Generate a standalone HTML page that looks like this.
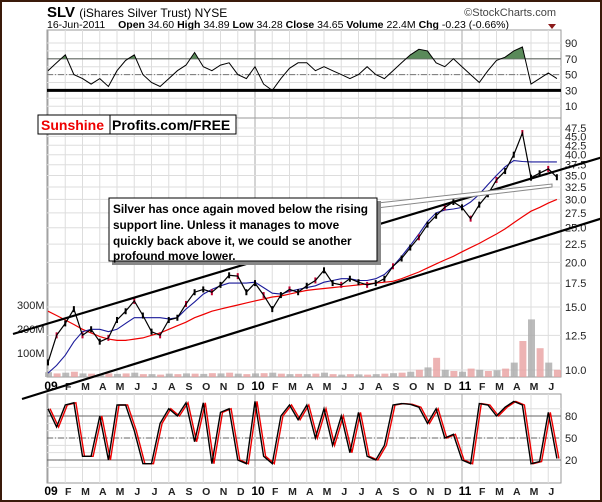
<!DOCTYPE html>
<html><head><meta charset="utf-8"><style>
body{margin:0;background:#fff}
#wrap{position:relative;width:598px;height:498px;border:2px solid #3a1a0a;overflow:hidden;background:#fff;font-family:"Liberation Sans",Arial,sans-serif}
svg{position:absolute;left:-2px;top:-2px}
</style></head><body>
<div id="wrap">
<svg id="c" width="602" height="502" xmlns="http://www.w3.org/2000/svg" font-family="Liberation Sans, Arial, sans-serif">
<text x="47" y="17" font-size="15" font-weight="bold">SLV <tspan font-weight="normal" font-size="12">(iShares Silver Trust) NYSE</tspan></text>
<text x="556" y="16" font-size="11" text-anchor="end" fill="#444">©StockCharts.com</text>
<text x="47" y="28" font-size="10.5">16-Jun-2011 <tspan dx="10" font-weight="bold">Open</tspan> 34.60 <tspan font-weight="bold">High</tspan> 34.89 <tspan font-weight="bold">Low</tspan> 34.28 <tspan font-weight="bold">Close</tspan> 34.65 <tspan font-weight="bold">Volume</tspan> 22.4M <tspan font-weight="bold">Chg</tspan> -0.23 (-0.66%)</text>
<polygon points="548,24 556,24 552,29" fill="#8b1a1a"/>
<g id="grid"></g><g id="marks"></g>
</svg>
</div>
<script>
const months=['09','F','M','A','M','J','J','A','S','O','N','D','10','F','M','A','M','J','J','A','S','O','N','D','11','F','M','A','M','J'];
const priceTicks=[10,12.5,15,17.5,20,22.5,25,27.5,30,32.5,35,37.5,40,42.5,45,47.5];
const price=[10.5,12.5,13.5,14.8,12.5,13,12,12.3,13.8,14.6,15.6,14.2,12.8,12.5,13.8,14,15.3,16.5,16.8,16.5,17.3,18.4,18.3,16.5,17.5,16.2,14.8,16.2,16.8,16.5,17.2,17.8,19,17.5,17.3,18,17.6,17.3,17.5,18,19.5,20.5,22,23.5,25.5,27,28.5,29.5,28.5,26.5,29,31,34,36,40,46,34.5,35.5,36.5,34.6];
const ma50=[9.8,10.3,11,12,12.8,13,13,12.8,13,13.5,14,14,14,14,13.9,14,14.8,15.5,16.3,16.8,17.2,17.5,17.5,17.5,17.6,17,16.4,16.3,16.6,16.8,17,17.2,17.6,17.8,18,18,17.8,17.8,18,18.5,19.5,20.8,22.3,24,26,27.5,28,28.2,28.5,29.5,31,33,35,37,38.5,38.3,38.2,38.2,38.2,38.2];
const ma200=[14.6,14.2,13.8,13.4,13.0,12.7,12.4,12.2,12.1,12.1,12.2,12.3,12.5,12.7,13,13.3,13.6,14,14.3,14.6,14.8,15.0,15.2,15.4,15.6,15.8,16,16.1,16.3,16.5,16.7,16.8,16.9,17,17.1,17.2,17.3,17.4,17.5,17.6,17.7,18,18.4,18.8,19.3,19.8,20.3,20.8,21.4,22,22.6,23.3,24,24.8,25.8,26.8,27.8,28.5,29.3,30.0];
const volume=[20,15,18,22,15,14,12,15,13,15,18,12,12,10,14,12,15,14,13,16,15,18,14,12,15,16,18,14,12,13,12,14,18,12,10,12,11,10,12,14,16,18,22,30,40,80,30,25,22,35,30,25,28,35,60,150,240,120,60,30];
const rsi=[55,65,75,50,45,38,45,35,55,68,75,50,40,35,45,55,62,78,60,55,62,65,50,45,60,38,30,45,58,65,65,55,60,55,50,45,50,60,50,45,55,65,75,82,80,65,60,70,60,50,40,55,68,72,80,85,38,45,52,45];
const stoch=[90,65,95,98,25,25,80,20,95,95,60,15,15,70,90,80,98,45,98,15,85,90,20,15,100,25,15,80,95,75,95,50,90,40,80,30,85,25,20,40,95,97,96,92,70,90,50,55,20,15,97,95,80,92,100,95,15,18,85,22];
const rsiTicks=[90,70,50,30,10];
const stochTicks=[80,50,20];
const volTicks=[100,200,300];

const NS='http://www.w3.org/2000/svg';
const G=document.getElementById('grid'),M=document.getElementById('marks');
const L=47,R=561;
function xm(m){return 48+m*17.25;}
function yp(p){return 370-Math.log(p/10)*155.3;}
function yr(v){return 43+(90-v)*0.79;}
function ys(v){return 460-(v-20)*0.733;}
function yv(v){return 377-v*0.24;}
function el(tag,attrs,parent){const e=document.createElementNS(NS,tag);for(const k in attrs)e.setAttribute(k,attrs[k]);parent.appendChild(e);return e;}
function pts(arr,fy){return arr.map((v,i)=>xm(i*0.5).toFixed(1)+','+fy(v).toFixed(1)).join(' ');}

const panels=[[30,118],[118,377],[394,483]];
panels.forEach((p,pi)=>{
  const r=el('rect',{x:L,y:p[0],width:R-L,height:p[1]-p[0],fill:'none',stroke:'#999'},G);
  
  
  months.forEach((mo,i)=>{
    const g=el('line',{x1:xm(i),x2:xm(i),y1:p[0],y2:p[1],stroke:i%12==0?'#aaa':'#ddd'},G);
    
    
  });
});
[386,491].forEach(y=>{months.forEach((mo,i)=>{
  const t=el('text',{x:xm(i)+3,y:y+4,'font-size':mo.length>1?12:10.5,'font-weight':'bold','text-anchor':'middle',fill:mo.length>1?'#000':'#222'},G);
  t.textContent=mo;
  
  
});});
priceTicks.forEach(v=>{
  const g=el('line',{x1:L,x2:R,y1:yp(v),y2:yp(v),stroke:'#ddd'},G);
  
  
  const t=el('text',{x:565,y:yp(v)+4,'font-size':11,fill:'#222'},G);
  t.textContent=v.toFixed(1);
  
  
});
volTicks.forEach(v=>{
  const t=el('text',{x:17,y:yv(v)+4,'font-size':11,fill:'#222'},G);
  t.textContent=v+'M';
  
  
});
[90,80,70,60,50,40,30,20,10].forEach(v=>{
  const g=el('line',{x1:L,x2:R,y1:yr(v),y2:yr(v),stroke:'#ddd'},G);
  
  
});
rsiTicks.forEach(v=>{
  const t=el('text',{x:565,y:yr(v)+4,'font-size':11,fill:'#222'},G);
  t.textContent=v;
  
  
});
[[70,'#666',1.2,''],[50,'#777',1,'6,2,1,2'],[30,'#000',3,'']].forEach(a=>{
  const g=el('line',{x1:L,x2:R,y1:yr(a[0]),y2:yr(a[0]),stroke:a[1],'stroke-width':a[2],'stroke-dasharray':a[3]},G);
  
  
});
[90,80,70,60,50,40,30,20,10].forEach(v=>{
  const g=el('line',{x1:L,x2:R,y1:ys(v),y2:ys(v),stroke:'#ddd'},G);
  
  
});
stochTicks.forEach(v=>{
  const t=el('text',{x:565,y:ys(v)+4,'font-size':11,fill:'#222'},G);
  t.textContent=v;
  
  
  const g=el('line',{x1:L,x2:R,y1:ys(v),y2:ys(v),stroke:'#666','stroke-dasharray':v==50?'6,2,1,2':''},G);
  
  
});

volume.forEach((v,i)=>{
  const b=el('rect',{x:xm(i*0.5)-3,y:yv(v),width:7,height:377-yv(v),fill:i%2?'#e8a0a0':'#aaa',opacity:0.8},M);
  
  
});
const rp=el('clipPath',{id:'above70'},M);
el('rect',{x:L,y:30,width:R-L,height:yr(70)-30},rp);
const rf=el('polygon',{points:xm(0)+','+yr(70)+' '+pts(rsi,yr)+' '+xm(29.5)+','+yr(70),fill:'#5a8a5a','clip-path':'url(#above70)'},M);


const rl=el('polyline',{points:pts(rsi,yr),fill:'none',stroke:'#000','stroke-width':1},M);


const m2=el('polyline',{points:pts(ma200,yp),fill:'none',stroke:'#e00','stroke-width':1.2},M);


const m5=el('polyline',{points:pts(ma50,yp),fill:'none',stroke:'#1a1a9a','stroke-width':1.1},M);


price.forEach((v,i)=>{
  const b=el('rect',{x:xm(i*0.5)-1,y:yp(v)-3,width:2,height:6,fill:i%3==1?'#c00030':'#000'},M);
  
  
});
const pl=el('polyline',{points:pts(price,yp),fill:'none',stroke:'#000','stroke-width':1.2},M);


const sd=el('polyline',{points:stoch.map((v,i)=>(xm(i*0.5)+2).toFixed(1)+','+ys(v).toFixed(1)).join(' '),fill:'none',stroke:'#e00','stroke-width':1.4},M);


const sk=el('polyline',{points:pts(stoch,ys),fill:'none',stroke:'#000','stroke-width':1.4},M);


const t1=el('line',{x1:13,y1:334,x2:603,y2:157,stroke:'#000','stroke-width':2.2},M);


const t2=el('line',{x1:22,y1:399,x2:603,y2:218,stroke:'#000','stroke-width':2.2},M);


const t3=el('polygon',{points:'377,203 552,184 552,187 377,208',fill:'#fff',stroke:'#888','stroke-width':1},M);


</script>
<svg width="602" height="502" style="position:absolute;left:0;top:0;pointer-events:none" font-family="Liberation Sans, Arial, sans-serif">
<rect x="38" y="115" width="198" height="19" fill="#fff" stroke="#000"/>
<line x1="110" y1="115" x2="110" y2="134" stroke="#000"/>
<text x="41" y="130" font-size="14" font-weight="bold" fill="#e00">Sunshine</text>
<text x="112" y="130" font-size="14" font-weight="bold" fill="#000">Profits.com/FREE</text>
<rect x="112" y="201" width="269" height="64" fill="#888"/>
<rect x="109" y="198" width="268" height="63" fill="#fff" stroke="#000"/>
<text font-size="11.8" font-weight="bold"><tspan x="113" y="213">Silver has once again moved below the rising</tspan><tspan x="113" y="229">support line. Unless it manages to move</tspan><tspan x="113" y="245">quickly back above it, we could se another</tspan><tspan x="113" y="260">profound move lower.</tspan></text>
</svg>
</body></html>
